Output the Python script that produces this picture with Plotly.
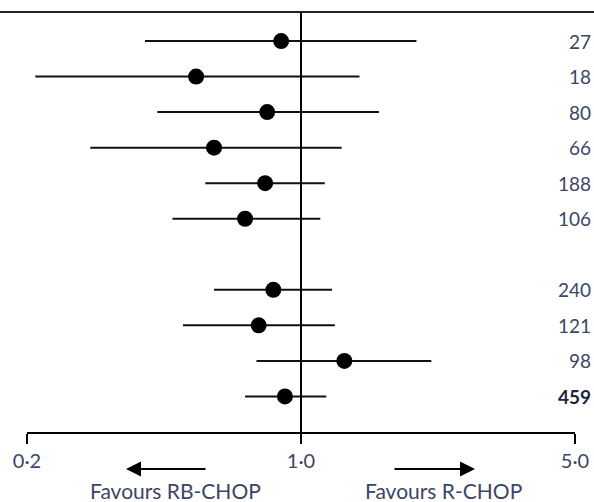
import plotly.graph_objects as go

# Data (hazard ratios with 95% CI), top to bottom
row_pos = [1, 2, 3, 4, 5, 6, 8, 9, 10, 11]
estimate = [0.89, 0.54, 0.82, 0.60, 0.81, 0.72, 0.85, 0.78, 1.29, 0.91]
ci_low = [0.40, 0.21, 0.43, 0.29, 0.57, 0.47, 0.60, 0.50, 0.77, 0.72]
ci_high = [1.97, 1.41, 1.58, 1.27, 1.15, 1.12, 1.20, 1.22, 2.15, 1.16]
n_labels = ["27", "18", "80", "66", "188", "106", "240", "121", "98", "459"]
bold_rows = [False] * 9 + [True]
tick_vals = [0.2, 1.0, 5.0]
tick_text = ["0·2", "1·0", "5·0"]

W, H = 594, 502
ML, MR, MT, MB = 27, 19, 12, 70
PW = W - ML - MR
PH = H - MT - MB

FONT = "Lato"
TXT = "#3c4566"

fig = go.Figure()
fig.add_trace(go.Scatter(
    x=estimate, y=row_pos, mode="markers",
    marker=dict(size=16, color="black", symbol="circle"),
    error_x=dict(type="data", symmetric=False,
                 array=[h - e for h, e in zip(ci_high, estimate)],
                 arrayminus=[e - l for e, l in zip(estimate, ci_low)],
                 color="#111111", thickness=2, width=0),
    showlegend=False, hoverinfo="skip", cliponaxis=False,
))

# right-side counts
for yv, lab, b in zip(row_pos, n_labels, bold_rows):
    fig.add_annotation(x=(593 - ML) / PW, xref="paper", y=yv, yref="y",
                       text=f"<b>{lab}</b>" if b else lab, showarrow=False,
                       xanchor="right", yanchor="middle",
                       font=dict(family=FONT, size=19, color="#1e2440" if b else TXT))

# top rule across the whole width
fig.add_shape(type="line", xref="paper", yref="paper",
              x0=-ML / PW, x1=1 + MR / PW, y0=1, y1=1,
              line=dict(color="#222222", width=2))
# line of no effect
fig.add_shape(type="line", xref="x", yref="paper", x0=1, x1=1, y0=0, y1=1,
              line=dict(color="black", width=2))

# direction arrows
arrow_y = (432 - 469) / PH
fig.add_annotation(x=(126 - ML) / PW, y=arrow_y, xref="paper", yref="paper",
                   ax=81, ay=0, showarrow=True, arrowhead=2, arrowsize=1.5,
                   arrowwidth=2, arrowcolor="black", text="")
fig.add_annotation(x=(475 - ML) / PW, y=arrow_y, xref="paper", yref="paper",
                   ax=-82, ay=0, showarrow=True, arrowhead=2, arrowsize=1.5,
                   arrowwidth=2, arrowcolor="black", text="")
label_y = (432 - 490) / PH
fig.add_annotation(x=(175 - ML) / PW, y=label_y, xref="paper", yref="paper",
                   text="Favours RB-CHOP", showarrow=False, xanchor="center",
                   yanchor="middle", font=dict(family=FONT, size=21, color=TXT))
fig.add_annotation(x=(443 - ML) / PW, y=label_y, xref="paper", yref="paper",
                   text="Favours R-CHOP", showarrow=False, xanchor="center",
                   yanchor="middle", font=dict(family=FONT, size=21, color=TXT))

fig.update_xaxes(type="log", range=[-0.69897, 0.69897], showgrid=False,
                 zeroline=False, showline=True, linecolor="black", linewidth=2,
                 ticks="outside", ticklen=10, tickwidth=2, tickcolor="black",
                 tickvals=tick_vals, ticktext=tick_text, automargin=False,
                 tickfont=dict(family=FONT, size=20, color=TXT))
fig.update_yaxes(range=[12, 0.183], showgrid=False, zeroline=False,
                 showline=False, showticklabels=False, ticks="", automargin=False)
fig.update_layout(width=W, height=H, margin=dict(l=ML, r=MR, t=MT, b=MB),
                  plot_bgcolor="white", paper_bgcolor="white")

fig.write_html("out.html")
